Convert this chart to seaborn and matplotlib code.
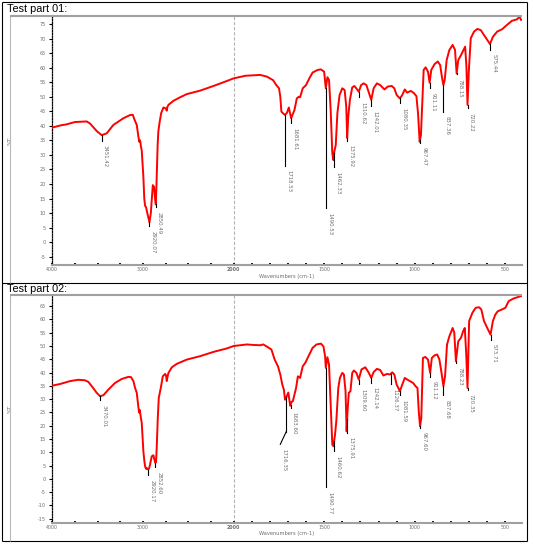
import numpy as np
import matplotlib
matplotlib.use("Agg")
import matplotlib.pyplot as plt
from matplotlib.lines import Line2D
import seaborn as sns

# ---- Test part 01 spectrum (wavenumber cm-1, %T) ----
top_wn = [4000, 3900, 3842, 3750, 3621, 3584, 3510, 3455, 3400, 3326, 3216, 3142, 3112,
          3094, 3068, 3050, 3040, 3031, 3022, 3013, 2995, 2985, 2976, 2965, 2955, 2940,
          2928, 2913, 2902, 2891, 2877, 2866, 2858, 2850, 2838, 2830, 2818, 2799, 2774,
          2748, 2737, 2730, 2718, 2663, 2590, 2516, 2368, 2221, 2074, 2000,
          1935, 1853, 1816, 1782, 1764, 1749, 1742, 1736, 1727, 1716, 1705, 1695, 1682,
          1664, 1651, 1640, 1633, 1618, 1600, 1582, 1564, 1536, 1518, 1500, 1491, 1482,
          1473, 1464, 1455, 1449, 1444, 1436, 1427, 1415, 1400, 1387, 1378, 1373, 1367,
          1358, 1345, 1333, 1318, 1309, 1296, 1282, 1267, 1255, 1240, 1227, 1209, 1191,
          1167, 1149, 1127, 1113, 1100, 1082, 1069, 1055, 1042, 1022, 1004, 991, 982,
          973, 966, 958, 951, 940, 927, 918, 909, 891, 873, 860, 849, 842, 835, 824,
          809, 791, 778, 769, 760, 745, 731, 722, 715, 709, 702, 691, 673, 655, 636,
          618, 600, 585, 569, 545, 518, 491, 464, 436, 422, 413]
top_t = [39.4, 40.2, 40.5, 41.3, 41.5, 40.8, 38.2, 36.8, 37.4, 40.3, 42.6, 43.7, 43.8,
         42.2, 40.3, 36.3, 34.5, 35.0, 33.0, 31.5, 22.5, 15.0, 12.5, 12.0, 10.5, 8.5,
         6.8, 9.9, 14.5, 19.6, 19.0, 15.0, 13.0, 20.0, 33.0, 38.0, 40.8, 44.3, 46.3,
         46.0, 45.2, 46.5, 47.2, 48.6, 49.8, 50.9, 52.1, 53.7, 55.4, 56.3,
         57.2, 57.5, 56.9, 55.7, 54.0, 52.9, 50.0, 44.9, 44.3, 43.7, 44.5, 46.3, 42.6,
         45.4, 49.4, 50.0, 49.8, 52.9, 54.0, 56.3, 58.3, 59.2, 59.4, 58.6, 52.9, 56.7,
         55.7, 45.4, 30.5, 28.2, 31.1, 33.4, 44.3, 50.6, 52.9, 52.3, 46.6, 35.8, 43.1,
         48.9, 53.2, 53.7, 52.5, 51.7, 54.0, 54.6, 54.0, 51.7, 48.9, 52.9, 54.6, 54.0,
         52.5, 53.5, 53.7, 52.9, 50.6, 49.4, 50.6, 52.5, 51.4, 52.0, 51.2, 50.2, 44.3,
         34.5, 36.8, 48.9, 59.2, 60.1, 58.6, 54.8, 59.2, 61.2, 62.1, 60.9, 56.3, 54.0,
         55.7, 62.6, 66.1, 67.8, 66.1, 58.0, 62.6, 64.3, 66.1, 67.2, 60.3, 47.2, 58.6,
         70.1, 72.4, 73.3, 72.9, 71.2, 69.5, 68.1, 70.6, 72.4, 73.2, 74.7, 76.1, 76.6,
         77.5, 76.4]
top_peak_wn = [3455, 2928, 2858, 1716, 1682, 1491, 1445, 1373, 1309, 1240, 1082, 971,
               918, 842, 769, 709, 585]
top_peak_end = [34.9, 5.5, 12.0, 26.3, 40.8, 11.6, 25.7, 34.8, 49.8, 46.8, 47.7, 34.2,
                52.9, 44.9, 57.8, 46.0, 66.1]
top_peak_labels = ["3451.42", "2920.07", "2850.49", "1718.53", "1681.61", "1490.53",
                   "1462.33", "1375.92", "1310.62", "1242.01", "1080.35", "967.47",
                   "911.11", "837.36", "788.15", "720.22", "575.44"]

# ---- Test part 02 spectrum ----
bot_wn = [4000, 3915, 3805, 3713, 3639, 3602, 3565, 3510, 3473, 3436, 3381, 3308, 3234,
          3160, 3131, 3105, 3087, 3068, 3050, 3042, 3035, 3025, 3013, 2995, 2985, 2976,
          2966, 2958, 2948, 2939, 2930, 2921, 2912, 2902, 2884, 2873, 2862, 2855, 2847,
          2836, 2825, 2803, 2781, 2755, 2745, 2737, 2728, 2718, 2681, 2626, 2516, 2368,
          2221, 2074, 2000,
          1926, 1890, 1853, 1836, 1816, 1791, 1773, 1755, 1742, 1731, 1722, 1716, 1707,
          1698, 1687, 1680, 1673, 1655, 1645, 1633, 1618, 1604, 1582, 1564, 1542, 1518,
          1504, 1495, 1491, 1482, 1473, 1464, 1455, 1449, 1440, 1433, 1422, 1413, 1400,
          1391, 1382, 1376, 1371, 1364, 1355, 1345, 1336, 1322, 1309, 1294, 1273, 1255,
          1240, 1227, 1209, 1191, 1173, 1154, 1136, 1124, 1113, 1100, 1082, 1069, 1055,
          1042, 1027, 1009, 996, 985, 978, 971, 964, 955, 942, 927, 915, 906, 891, 876,
          864, 851, 842, 833, 822, 809, 791, 782, 773, 760, 745, 733, 724, 716, 709,
          700, 682, 664, 645, 633, 618, 600, 582, 569, 555, 542, 518, 500, 482, 455,
          427, 414]
bot_t = [35.1, 35.7, 36.8, 37.3, 37.1, 36.5, 34.9, 32.4, 31.1, 31.5, 33.6, 36.1, 37.6,
         38.4, 38.3, 36.8, 34.3, 32.4, 27.0, 25.0, 26.0, 23.5, 21.1, 10.4, 7.0, 4.7,
         3.8, 4.1, 3.6, 3.5, 4.2, 5.4, 7.0, 8.5, 8.9, 7.2, 6.0, 6.5, 12.3,
         22.9, 30.5, 34.2, 38.6, 39.5, 39.0, 36.8, 38.5, 39.9, 42.0, 43.3, 44.9, 46.2,
         47.8, 49.1, 50.0,
         50.6, 50.4, 50.3, 50.6, 49.8, 48.7, 44.9, 42.4, 39.3, 35.5, 33.5, 29.8, 31.0,
         32.5, 27.5, 29.0, 29.2, 34.2, 38.6, 38.0, 42.4, 43.7, 46.8, 49.3, 50.6, 50.9,
         49.9, 46.2, 41.8, 45.8, 43.0, 28.0, 12.9, 12.3, 16.6, 21.7, 34.2, 38.0, 39.9,
         39.3, 33.0, 17.9, 25.5, 32.4, 33.0, 39.9, 40.8, 39.9, 37.4, 41.2, 42.0, 40.1,
         38.0, 40.2, 41.4, 41.0, 38.9, 39.5, 39.3, 40.1, 39.3, 35.5, 33.0, 35.5, 38.0,
         37.4, 36.8, 36.1, 34.9, 34.2, 25.5, 19.8, 22.9, 45.5, 45.9, 44.9, 39.9, 45.5,
         46.5, 46.8, 44.9, 39.3, 34.9, 38.6, 50.6, 53.7, 56.8, 55.0, 44.3, 51.8, 53.1,
         55.6, 56.8, 46.8, 34.2, 59.4, 62.5, 64.4, 64.6, 63.8, 59.4, 56.8, 54.3, 59.4,
         61.9, 63.1, 63.8, 64.4, 66.9, 67.9, 68.5, 68.8]
bot_peak_wn = [3473, 2939, 2862, 1709, 1685, 1491, 1445, 1373, 1309, 1240, 1131, 1082,
               971, 915, 842, 773, 709, 582]
bot_peak_end = [29.5, 1.3, 4.4, 17.8, 26.7, -3.2, 10.4, 17.3, 35.7, 36.1, 35.7, 31.5,
                19.2, 38.4, 31.5, 43.7, 33.6, 52.4]
# where the label sits (the 1716 marker bends left before its label)
bot_label_wn = [3473, 2939, 2862, 1742, 1685, 1491, 1445, 1373, 1309, 1240, 1131, 1082,
                971, 915, 842, 773, 709, 582]
bot_label_end = [29.5, 1.3, 4.4, 13.0, 26.7, -3.2, 10.4, 17.3, 35.7, 36.1, 35.7, 31.5,
                 19.2, 38.4, 31.5, 43.7, 33.6, 52.4]
bot_peak_labels = ["3470.01", "2920.17", "2852.60", "1716.35", "1683.60", "1490.77",
                   "1460.62", "1375.91", "1309.60", "1242.14", "1126.37", "1081.59",
                   "967.60", "911.12", "837.68", "788.23", "720.35", "573.71"]

x_major = [4000, 3000, 2000, 1500, 1000, 500]
x_minor = [3750, 3500, 3250, 2750, 2500, 2250, 1900, 1800, 1700, 1600, 1400, 1300,
           1200, 1100, 900, 800, 700, 600]

W, H = 533, 544
GRAY_TXT = "#6e6e6e"


def fwd(w):
    # scale below 2000 cm-1 is expanded two times
    w = np.asarray(w, dtype=float)
    return np.where(w >= 2000, w, 2 * w - 2000)


def inv(u):
    u = np.asarray(u, dtype=float)
    return np.where(u >= 2000, u, (u + 2000) / 2)


def fig_line(fig, x0, y0, x1, y1, color, lw):
    fig.add_artist(Line2D([x0 / W, x1 / W], [1 - y0 / H, 1 - y1 / H],
                          transform=fig.transFigure, color=color, lw=lw,
                          solid_capstyle="butt"))


def draw_panel(ax, wn, t, peak_wn, peak_end, labels, label_wn, label_end,
               ylim, yticks, xlabel_drop):
    ax.set_xscale("function", functions=(fwd, inv))
    ax.axvline(2000, color="#b4b4b4", lw=0.8, ls=(0, (3, 1.6)), zorder=1)

    sns.lineplot(x=wn, y=t, sort=False, estimator=None, color="red", lw=1.4,
                 ax=ax, legend=False, zorder=3)

    for w, end, lab, lw_, le in zip(peak_wn, peak_end, labels, label_wn, label_end):
        top = np.interp(w, wn[::-1], t[::-1])
        ax.plot([w, w], [top, end], color="black", lw=0.8, zorder=4)
        if lw_ != w:
            ax.plot([w, lw_], [end, le], color="black", lw=0.8, zorder=4)
        ax.annotate(lab, xy=(lw_, le), xytext=(1.2, -4.5), textcoords="offset pixels",
                    rotation=270, ha="left", va="top", fontsize=3.9,
                    color=GRAY_TXT)

    ax.set_xlim(4000, 410)
    ax.set_ylim(*ylim)
    ax.set_xticks(x_major, labels=[str(v) for v in x_major])
    ax.set_xticks(x_minor, minor=True)
    ax.set_yticks(yticks, labels=[str(v) for v in yticks])
    ax.get_xticklabels()[2].set_fontweight("bold")
    ax.get_xticklabels()[2].set_color("#404040")

    ax.tick_params(axis="x", which="both", direction="in", length=1.6, width=1.3,
                   color="black", labelsize=3.4, labelcolor=GRAY_TXT, pad=1.5)
    ax.tick_params(axis="y", direction="out", length=2, width=0.8, color="black",
                   labelsize=3.5, labelcolor=GRAY_TXT, pad=2.5)

    for side in ["top", "right"]:
        ax.spines[side].set_visible(False)
    ax.spines["left"].set_color("black")
    ax.spines["left"].set_linewidth(0.9)
    ax.spines["left"].set_linestyle((0, (1, 1.2)))
    ax.spines["bottom"].set_color("#a0a0a0")
    ax.spines["bottom"].set_linewidth(1.5)

    ax.set_ylabel("%T", fontsize=4, color=GRAY_TXT)
    ax.yaxis.set_label_coords((13 - 52.3) / 469.4, 0.5)
    ax.set_xlabel("Wavenumbers (cm-1)", fontsize=3.7, color=GRAY_TXT)
    ax.xaxis.set_label_coords(0.5, xlabel_drop)
    ax.set_facecolor("white")


fig = plt.figure(figsize=(W / 100, H / 100), dpi=100)

ax1 = fig.add_axes([52.3 / W, 1 - 265 / H, (521.7 - 52.3) / W, (265 - 16) / H])
draw_panel(ax1, np.array(top_wn), np.array(top_t), top_peak_wn, top_peak_end,
           top_peak_labels, top_peak_wn, top_peak_end,
           (-7.85, 77.75), list(range(-5, 80, 5)), -9.5 / 249)

ax2 = fig.add_axes([52.3 / W, 1 - 522.7 / H, (521.7 - 52.3) / W, (522.7 - 295.3) / H])
draw_panel(ax2, np.array(bot_wn), np.array(bot_t), bot_peak_wn, bot_peak_end,
           bot_peak_labels, bot_label_wn, bot_label_end,
           (-16.5, 69.1), list(range(-15, 70, 5)), -8.5 / 227.4)

# frames: black table borders and gray chart boxes
for y in [1.7, 283, 541]:
    fig_line(fig, 2.3, y, 526.7, y, "black", 0.8)
for x in [2.3, 526.7]:
    fig_line(fig, x, 1.7, x, 541, "black", 0.8)
fig_line(fig, 10.3, 16, 10.3, 283, "#b8b8b8", 0.8)
fig_line(fig, 10.3, 295.3, 10.3, 541, "#b8b8b8", 0.8)
fig_line(fig, 10.3, 16, 521.7, 16, "#a0a0a0", 1.5)
fig_line(fig, 10.3, 295.3, 521.7, 295.3, "#a0a0a0", 1.5)

fig.text(7 / W, 1 - 8.5 / H, "Test part 01:", fontsize=7.8, family="Liberation Sans",
         ha="left", va="center", color="black")
fig.text(7 / W, 1 - 289.5 / H, "Test part 02:", fontsize=7.8, family="Liberation Sans",
         ha="left", va="center", color="black")

fig.savefig("out.png", dpi=100, facecolor="white")
